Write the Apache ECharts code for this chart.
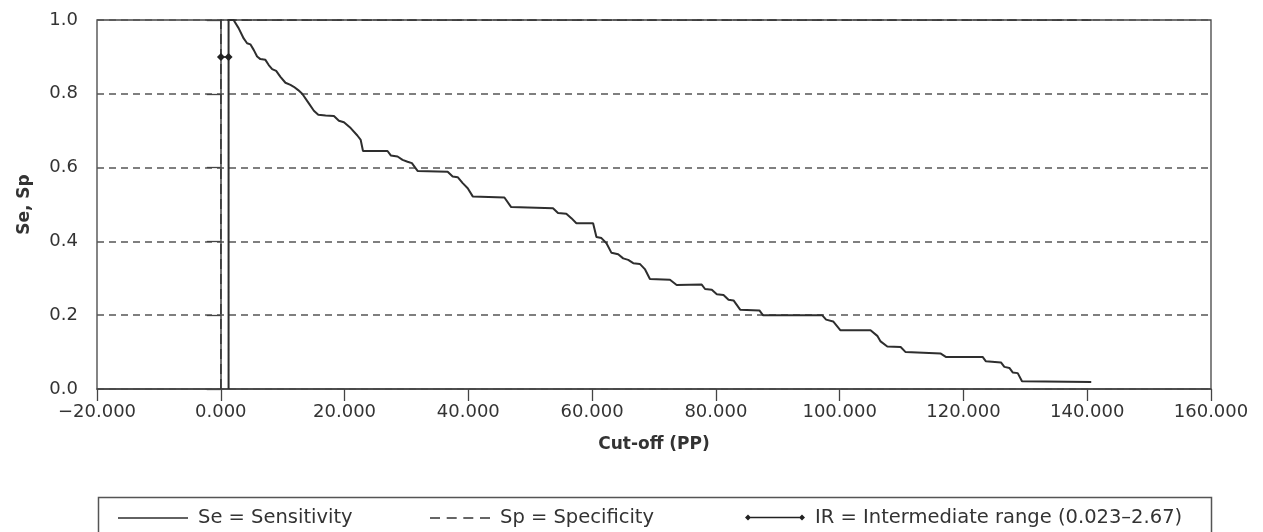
<!DOCTYPE html>
<html>
<head>
<meta charset="utf-8">
<script src="https://cdn.jsdelivr.net/npm/echarts@6/dist/echarts.min.js"></script>
<style>html,body{margin:0;padding:0;background:#fff;}#chart{width:1263px;height:532px;}</style>
</head>
<body>
<div id="chart"></div>
<script>
// Sensitivity curve (cut-off, Se)
const seCutoff = [1.26,1.26,2.07,2.88,3.70,4.25,4.78,5.32,5.87,6.40,7.21,7.75,8.30,8.95,9.64,10.45,11.26,11.80,12.51,13.16,14.23,15.04,15.75,16.94,18.28,19.09,19.90,20.99,22.07,22.61,22.98,26.94,27.47,28.56,29.37,30.18,30.88,31.80,36.66,37.47,38.28,39.09,39.90,40.71,45.83,46.92,53.68,54.49,55.83,56.65,57.46,60.16,60.70,61.51,62.32,63.13,64.21,65.02,65.83,66.65,67.71,68.52,69.34,72.58,73.66,77.71,78.25,79.34,80.15,81.23,82.04,82.85,83.92,87.03,87.60,97.16,97.81,98.95,100.13,104.99,106.08,106.61,107.70,109.85,110.66,116.34,117.15,123.10,123.63,126.06,126.61,127.42,127.96,128.77,129.46,140.65];
const seValues = [0,1.0,1.0,0.978,0.950,0.937,0.934,0.919,0.901,0.894,0.892,0.878,0.867,0.862,0.846,0.830,0.824,0.819,0.810,0.800,0.774,0.754,0.743,0.741,0.740,0.727,0.723,0.707,0.687,0.675,0.645,0.645,0.633,0.630,0.621,0.616,0.612,0.591,0.589,0.576,0.574,0.558,0.544,0.522,0.519,0.493,0.490,0.477,0.475,0.463,0.449,0.449,0.412,0.409,0.395,0.369,0.365,0.354,0.350,0.341,0.339,0.325,0.298,0.296,0.282,0.283,0.271,0.269,0.257,0.255,0.242,0.240,0.215,0.213,0.200,0.200,0.188,0.183,0.159,0.159,0.144,0.129,0.115,0.114,0.100,0.096,0.087,0.087,0.075,0.072,0.060,0.057,0.045,0.043,0.021,0.019];
// Specificity (cut-off, Sp)
const spCutoff = [0.023,0.023,140.65];
const spValues = [0,1.0,1.0];
// Intermediate range
const irCutoff = [0.023,1.26];
const irValues = [0.9,0.9];
// Axis ticks
const xTicks = [-20,0,20,40,60,80,100,120,140,160];
const yTicks = [0,0.2,0.4,0.6,0.8,1.0];
const seriesNames = ['Se = Sensitivity','Sp = Specificity','IR = Intermediate range (0.023\u20132.67)'];

const zip = (a,b)=>a.map((v,i)=>[v,b[i]]);
const FONT = 'DejaVu Sans';
const INK = '#333333';

const chart = echarts.init(document.getElementById('chart'), null, {renderer:'canvas'});
const seIcon = 'path://M0,0 L70,0 L70,1.6 L0,1.6 Z';
const spIcon = 'path://M0,0 L10,0 L10,1.6 L0,1.6 Z M16.7,0 L26.7,0 L26.7,1.6 L16.7,1.6 Z M33.3,0 L43.3,0 L43.3,1.6 L33.3,1.6 Z M50,0 L60,0 L60,1.6 L50,1.6 Z';
const irIcon = 'path://M0,4 L3,1 L6,4 L3,7 Z M3,3.3 L57,3.3 L57,4.7 L3,4.7 Z M54,4 L57,1 L60,4 L57,7 Z';
const legendText = {fontFamily: FONT, fontSize: 19.5, color: INK, padding: [0,0,0,5]};
chart.setOption({
  animation: false,
  backgroundColor: '#fff',
  grid: {left: 97, right: 52, top: 20, bottom: 143, show: true, borderColor: '#444', borderWidth: 1.3, backgroundColor: 'transparent'},
  xAxis: {
    type: 'value', min: xTicks[0], max: xTicks[xTicks.length-1], interval: 20,
    axisLine: {onZero: false, lineStyle: {color: '#444', width: 1.5}},
    axisTick: {show: true, inside: false, length: 12, lineStyle: {color: '#444', width: 1.3}},
    axisLabel: {margin: 14, fontFamily: FONT, fontSize: 18, color: INK,
      formatter: v => (v < 0 ? '\u2212' : '') + Math.abs(v).toFixed(3)},
    splitLine: {show: false},
    name: 'Cut-off (PP)', nameLocation: 'middle', nameGap: 47,
    nameTextStyle: {fontFamily: FONT, fontSize: 17, fontWeight: 'bold', color: INK}
  },
  yAxis: {
    type: 'value', min: yTicks[0], max: yTicks[yTicks.length-1], interval: 0.2,
    axisLine: {show: true, lineStyle: {color: '#444', width: 1.5}},
    axisTick: {show: true, inside: false, length: 14, lineStyle: {color: '#444', width: 1.3}},
    axisLabel: {margin: 19, fontFamily: FONT, fontSize: 18, color: INK, formatter: v => v.toFixed(1)},
    splitLine: {show: true, lineStyle: {color: '#555', type: [7,5], width: 1.5}},
    name: 'Se, Sp', nameLocation: 'middle', nameGap: 64,
    nameTextStyle: {fontFamily: FONT, fontSize: 17, fontWeight: 'bold', color: INK}
  },
  legend: [
    {data: [{name: seriesNames[0], icon: seIcon}], left: 118, top: 508, padding: 0, itemWidth: 70, itemHeight: 1.6, textStyle: legendText},
    {data: [{name: seriesNames[1], icon: spIcon}], left: 430, top: 508, padding: 0, itemWidth: 60, itemHeight: 1.6, textStyle: legendText},
    {data: [{name: seriesNames[2], icon: irIcon}], left: 745, top: 507.5, padding: 0, itemWidth: 60, itemHeight: 7, textStyle: legendText}
  ],
  graphic: [{type: 'rect', left: 96, top: 495, shape: {width: 1113, height: 50}, style: {fill: 'none', stroke: '#555', lineWidth: 1.5}, silent: true}],
  series: [
    {name: seriesNames[0], type: 'line', data: zip(seCutoff, seValues), symbol: 'none', lineStyle: {color: '#2e2e2e', width: 2}, itemStyle: {color: '#2e2e2e'}, z: 3},
    {name: seriesNames[1], type: 'line', data: zip(spCutoff, spValues), symbol: 'none', lineStyle: {color: '#333', width: 1.5, type: [10,5]}, itemStyle: {color: '#333'}, z: 2},
    {name: seriesNames[2], type: 'line', data: zip(irCutoff, irValues), symbol: 'diamond', symbolSize: 8, showSymbol: true, lineStyle: {color: '#222', width: 1.5}, itemStyle: {color: '#222'}, z: 4}
  ]
});
</script>
</body>
</html>
